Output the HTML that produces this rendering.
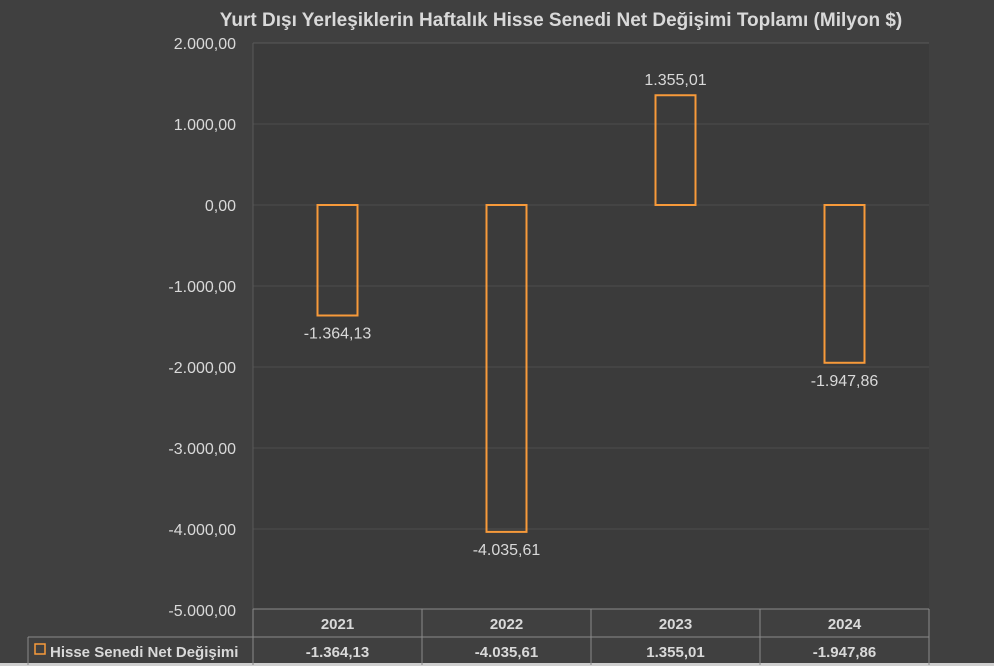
<!DOCTYPE html>
<html><head><meta charset="utf-8"><style>
body{margin:0;background:#404040;}
svg{display:block;font-family:"Liberation Sans",sans-serif;}
</style></head><body>
<svg id="c" width="994" height="666">
<rect width="994" height="666" fill="#404040"/>
<text x="561" y="26" fill="#d9d9d9" font-size="19" font-weight="bold" text-anchor="middle">Yurt Dışı Yerleşiklerin Haftalık Hisse Senedi Net Değişimi Toplamı (Milyon $)</text>
<rect x="253" y="43" width="676" height="566" fill="#3b3b3b"/>
<g id="grid"></g><g id="bars"></g>
<rect x="0" y="663" width="994" height="3" fill="#cfcfcf"/>
</svg>
<script>
const categories=["2021","2022","2023","2024"];
const values=[-1364.13,-4035.61,1355.01,-1947.86];
const labels=["-1.364,13","-4.035,61","1.355,01","-1.947,86"];
const ticks=[2000,1000,0,-1000,-2000,-3000,-4000,-5000];
const tickLabels=["2.000,00","1.000,00","0,00","-1.000,00","-2.000,00","-3.000,00","-4.000,00","-5.000,00"];
const NS="http://www.w3.org/2000/svg";
const L=253,R=929,y0=205,ppu=0.081;
const y=v=>y0-v*ppu;
const bw=(R-L)/categories.length;
const x=i=>L+bw*(i+0.5);
function el(t,a,p,txt){const e=document.createElementNS(NS,t);for(const k in a)e.setAttribute(k,a[k]);if(txt!==undefined)e.textContent=txt;p.appendChild(e);return e;}
const g=document.getElementById('grid'),b=document.getElementById('bars'),svg=document.getElementById('c');
ticks.forEach((t,i)=>{
 if(t>-5000){const ln=el('line',{x1:L,x2:R,y1:y(t),y2:y(t),stroke:'#4d4d4d','stroke-width':1},g);
 }
 const tx=el('text',{x:236,y:y(t)+6,fill:'#d9d9d9','font-size':16,'text-anchor':'end'},g,tickLabels[i]);
 
});
const ax=el('line',{x1:L,x2:L,y1:43,y2:609,stroke:'#5a5a5a'},g);
const tp=el('line',{x1:L,x2:R,y1:43,y2:43,stroke:'#5a5a5a'},g);
values.forEach((v,i)=>{
 const top=Math.min(y(v),y(0)),h=Math.abs(y(v)-y(0));
 const r=el('rect',{x:x(i)-20,y:top,width:40,height:h,fill:'none',stroke:'#f79a3a','stroke-width':2},b);
 
 const ly=v<0?y(v)+23:y(v)-10;
 const t=el('text',{x:x(i),y:ly,fill:'#d9d9d9','font-size':16,'text-anchor':'middle'},b,labels[i]);
 
});
const tb=el('g',{stroke:'#8a8a8a','stroke-width':1,fill:'none'},svg);

el('path',{d:`M${L} 609H${R}M28 637H${R}M28 637V665M${R} 609V665`},tb);
categories.forEach((c,i)=>{el('path',{d:`M${L+bw*i} 609V665`},tb);
 const h=el('text',{x:x(i),y:629,fill:'#d9d9d9','font-size':15,'font-weight':'bold','text-anchor':'middle',stroke:'none'},svg,c);
 
 const d=el('text',{x:x(i),y:657,fill:'#d9d9d9','font-size':15,'font-weight':'bold','text-anchor':'middle',stroke:'none'},svg,labels[i]);
 
});
const lk=el('rect',{x:35,y:644,width:10,height:10,fill:'none',stroke:'#f79a3a','stroke-width':1.5},svg);

const lt=el('text',{x:50,y:657,fill:'#d9d9d9','font-size':15,'font-weight':'bold'},svg,'Hisse Senedi Net Değişimi');

</script>
</body></html>
